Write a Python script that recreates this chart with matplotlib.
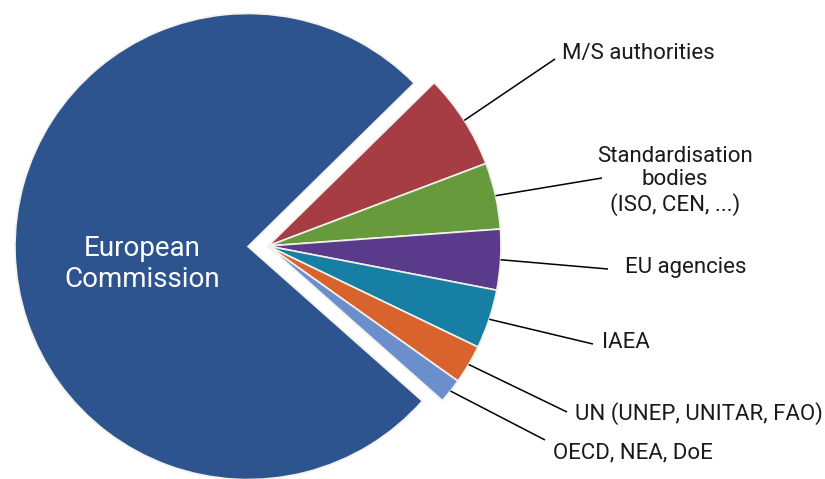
import numpy as np
import matplotlib.pyplot as plt

plt.rcParams['font.family'] = ['Roboto', 'DejaVu Sans']

# shares of the pie, clockwise from the top of "M/S authorities"
labels = ['M/S authorities', 'Standardisation\nbodies\n(ISO, CEN, ...)', 'EU agencies',
          'IAEA', 'UN (UNEP, UNITAR, FAO)', 'OECD, NEA, DoE', 'European\nCommission']
shares = [6.6, 4.6, 4.2, 4.1, 2.7, 1.7, 76.1]
colors = ['#a63d45', '#679a3d', '#5a3b8b', '#177fa3', '#d8632d', '#6b8fcc', '#2d548f']
# pie is drawn in pixel units, so explode is in pixels too
explode = [0, 0, 0, 0, 0, 0, 20]

W, H = 825, 479
fig = plt.figure(figsize=(W / 100, H / 100), dpi=100)
ax = fig.add_axes([0, 0, 1, 1])

wedges, _ = ax.pie(shares, colors=colors, explode=explode, startangle=44.5,
                   counterclock=False, radius=233, center=(268, H - 246),
                   wedgeprops=dict(edgecolor='#f4f1ea', linewidth=1.2))

ax.set_xlim(0, W)
ax.set_ylim(0, H)
ax.set_aspect('equal')
ax.axis('off')

# text anchors and line ends, in pixels from the top-left corner
text_pos = [(562, 59, 'left'), (675, 181, 'center'), (625, 273, 'left'),
            (602, 348, 'left'), (575, 420, 'left'), (553, 458, 'left')]
line_end = [(555, 59), (602, 178), (608, 269), (593, 344), (567, 412), (545, 440)]

for w, lab, (tx, ty, ha), (lx, ly) in zip(wedges[:-1], labels[:-1], text_pos, line_end):
    ang = np.deg2rad((w.theta1 + w.theta2) / 2)
    cx, cy = w.center
    px, py = cx + w.r * np.cos(ang), cy + w.r * np.sin(ang)
    ax.plot([px, lx], [py, H - ly], color='black', lw=1.1, solid_capstyle='butt')
    if '\n' in lab:
        ax.text(tx, H - ty, lab, ha='center', va='center', fontsize=16,
                linespacing=1.12, color='#1a1a1a')
    else:
        ax.text(tx, H - ty, lab, ha=ha, va='baseline', fontsize=16, color='#1a1a1a')

ax.text(142, H - 264, labels[-1], ha='center', va='center', fontsize=20,
        linespacing=1.15, color='white')

fig.savefig('out.png', dpi=100)
